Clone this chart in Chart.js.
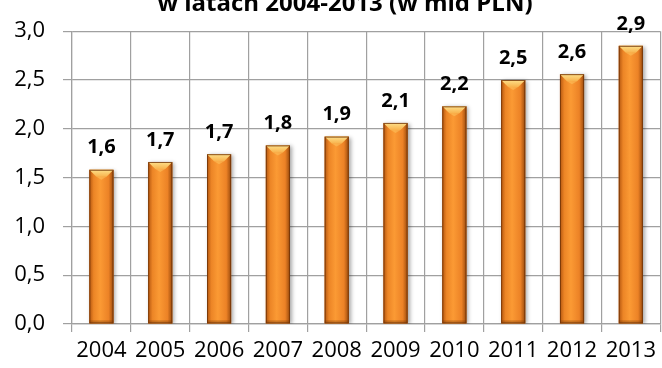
<!DOCTYPE html>
<html>
<head>
<meta charset="utf-8">
<script src="https://cdn.jsdelivr.net/npm/chart.js@4.4.1/dist/chart.umd.min.js"></script>
<style>
    html, body { margin: 0; padding: 0; background: #ffffff; }
    #wrap { width: 662px; height: 368px; position: relative; }
</style>
</head>
<body>
<div id="wrap"><canvas id="myChart" width="662" height="368"></canvas></div>
<script>
var title_text = 'w latach 2004-2013 (w mld PLN)';
var years = ['2004', '2005', '2006', '2007', '2008', '2009', '2010', '2011', '2012', '2013'];
var values = [1.58, 1.66, 1.74, 1.83, 1.92, 2.06, 2.23, 2.50, 2.56, 2.85];
var y_ticks = [0, 0.5, 1, 1.5, 2, 2.5, 3];

var FONT = "'Open Sans', 'DejaVu Sans', sans-serif";

function fmt(v, d) {
    return (Math.round(v * Math.pow(10, d) + 1e-9) / Math.pow(10, d)).toFixed(d).replace('.', ',');
}

// title sits partly above the canvas
var titlePlugin = {
    id: 'topTitle',
    afterDraw: function (chart) {
        var ctx = chart.ctx;
        ctx.save();
        ctx.font = 'bold 24px ' + FONT;
        ctx.fillStyle = '#000';
        ctx.textAlign = 'center';
        ctx.textBaseline = 'alphabetic';
        ctx.fillText(title_text, 345, 11);
        ctx.restore();
    }
};

// shaded column look: shadow under, horizontal gradient and bevelled top
var barLook = {
    id: 'barLook',
    beforeDatasetsDraw: function (chart) {
        var ctx = chart.ctx;
        ctx.save();
        ctx.shadowColor = 'rgba(0,0,0,0.35)';
        ctx.shadowBlur = 4;
        ctx.shadowOffsetX = 2;
        ctx.shadowOffsetY = 1;
    },
    afterDatasetsDraw: function (chart) {
        var ctx = chart.ctx;
        ctx.restore();
        var meta = chart.getDatasetMeta(0);
        meta.data.forEach(function (bar, i) {
            var p = bar.getProps(['x', 'y', 'base', 'width'], true);
            var l = p.x - p.width / 2, r = p.x + p.width / 2;
            var t = p.y, b = p.base;
            var g = ctx.createLinearGradient(l, 0, r, 0);
            g.addColorStop(0, '#b4560f');
            g.addColorStop(0.18, '#ec8526');
            g.addColorStop(0.45, '#fb9a34');
            g.addColorStop(0.8, '#ec8226');
            g.addColorStop(1, '#9a4a0c');
            ctx.save();
            ctx.fillStyle = g;
            ctx.fillRect(l, t, r - l, b - t);
            // top bevel
            var bev = 7;
            var tg = ctx.createLinearGradient(0, t, 0, t + bev);
            tg.addColorStop(0, '#fde08a');
            tg.addColorStop(1, '#f8b24c');
            ctx.fillStyle = tg;
            ctx.beginPath();
            ctx.moveTo(l, t);
            ctx.lineTo(r, t);
            ctx.lineTo(r - bev, t + bev);
            ctx.lineTo(l + bev, t + bev);
            ctx.closePath();
            ctx.fill();
            ctx.fillStyle = 'rgba(255,220,120,0.35)';
            ctx.beginPath();
            ctx.moveTo(l + bev, t + bev);
            ctx.lineTo(r - bev, t + bev);
            ctx.lineTo(p.x, t + bev + 3);
            ctx.closePath();
            ctx.fill();
            // bottom bevel
            ctx.fillStyle = 'rgba(120,60,10,0.35)';
            ctx.fillRect(l, b - 3, r - l, 3);
            // outline
            ctx.strokeStyle = 'rgba(110,50,8,0.8)';
            ctx.lineWidth = 1;
            ctx.strokeRect(l + 0.5, t + 0.5, r - l - 1, b - t - 1);
            ctx.restore();

            // value above the column
            ctx.save();
            ctx.font = 'bold 20px ' + FONT;
            ctx.fillStyle = '#000';
            ctx.textAlign = 'center';
            ctx.textBaseline = 'middle';
            ctx.fillText(fmt(values[i], 1), p.x, t - 22);
            ctx.restore();
        });
    }
};

var ctx = document.getElementById('myChart');
var chart = new Chart(ctx, {
    type: 'bar',
    data: {
        labels: years,
        datasets: [
            {
                data: values,
                backgroundColor: '#f08a30',
                borderWidth: 0,
                categoryPercentage: 1,
                barPercentage: 0.41,
            },
        ]
    },
    options: {
        responsive: false,
        animation: false,
        devicePixelRatio: 1,
        layout: { padding: { top: 28, right: 0, left: 0, bottom: 0 } },
        scales: {
            x: {
                offset: true,
                grid: {
                    display: true,
                    offset: true,
                    color: '#a0a0a0',
                    lineWidth: 1.2,
                    tickLength: 8,
                },
                border: { color: '#a0a0a0', width: 1.2 },
                ticks: {
                    color: '#000',
                    font: { family: FONT, size: 22 },
                    padding: 6,
                    maxRotation: 0,
                    autoSkip: false,
                },
                afterFit: function (axis) { axis.height = 44; }
            },
            y: {
                min: 0,
                max: 3,
                afterBuildTicks: function (axis) {
                    axis.ticks = y_ticks.map(function (v) { return { value: v }; });
                },
                grid: {
                    color: '#a0a0a0',
                    lineWidth: 1.2,
                    tickLength: 9,
                },
                border: { color: '#a0a0a0', width: 1.2 },
                ticks: {
                    color: '#000',
                    font: { family: FONT, size: 22 },
                    padding: 18,
                    callback: function (v) { return fmt(v, 1); }
                },
                afterFit: function (axis) { axis.width = 72; }
            }
        },
        plugins: {
            legend: { display: false },
            tooltip: { enabled: false },
            title: { display: false },
        },
    },
    plugins: [barLook, titlePlugin]
});
</script>
</body>
</html>
